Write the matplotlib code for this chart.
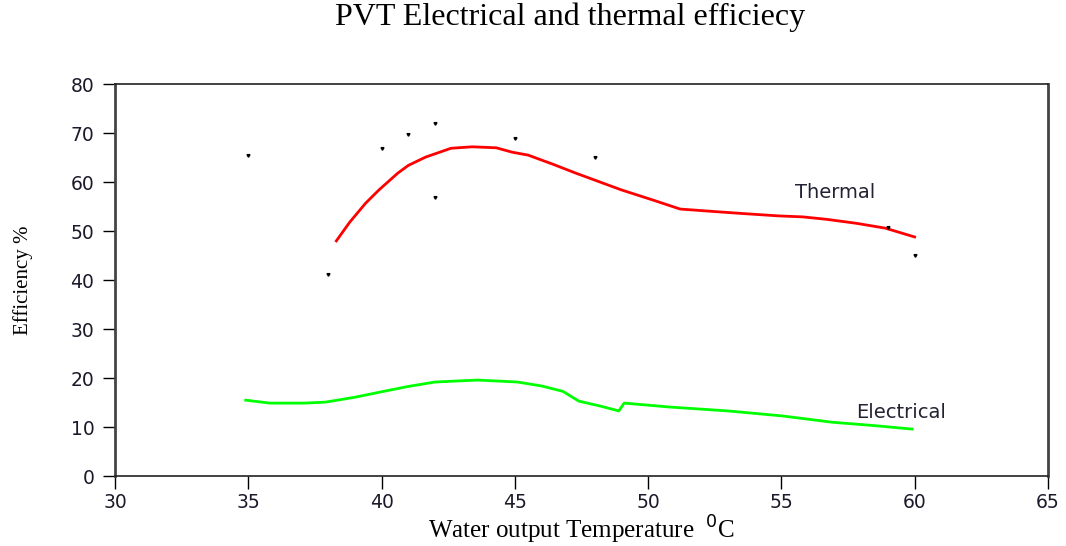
import matplotlib
matplotlib.use("Agg")
import matplotlib.pyplot as plt

# measured points (tiny black marks)
meas_x = [35, 38, 40, 41, 42, 42, 45, 48, 59, 60]
meas_y = [65.5, 41.2, 66.9, 69.8, 72.0, 56.9, 69.0, 65.1, 50.8, 45.1]

# thermal efficiency curve
thermal_x = [38.3, 38.8, 39.4, 39.9, 40.6, 41.0, 41.65, 42.6, 43.4, 44.3, 44.9,
             45.5, 46.4, 47.3, 48.1, 49.0, 50.2, 51.2, 52.2, 53.5, 54.9,
             55.8, 56.7, 57.8, 58.9, 60.0]
thermal_y = [48.0, 51.8, 55.7, 58.4, 61.8, 63.4, 65.1, 66.9, 67.2, 67.0, 66.1,
             65.5, 63.7, 61.8, 60.2, 58.4, 56.3, 54.5, 54.1, 53.6, 53.1,
             52.9, 52.4, 51.6, 50.6, 48.8]

# electrical efficiency curve
elec_x = [34.9, 35.8, 37.1, 37.9, 39.0, 39.9, 41.0, 42.0, 43.6, 45.1, 46.0,
          46.8, 47.4, 48.2, 48.9, 49.1, 50.8, 53.0, 55.0, 56.9, 58.5, 59.9]
elec_y = [15.5, 14.9, 14.9, 15.1, 16.1, 17.1, 18.3, 19.2, 19.6, 19.2, 18.4,
          17.3, 15.3, 14.3, 13.3, 14.9, 14.1, 13.3, 12.3, 11.0, 10.3, 9.6]

xticks = [30, 35, 40, 45, 50, 55, 60, 65]
yticks = [0, 10, 20, 30, 40, 50, 60, 70, 80]

fig = plt.figure(figsize=(10.66, 5.46), dpi=100)
ax = fig.add_axes([0.108, 0.128, 0.875, 0.718])

ax.plot(thermal_x, thermal_y, color="#ff0000", lw=2)
ax.plot(elec_x, elec_y, color="#00ff00", lw=2)
ax.plot(meas_x, meas_y, ls="none", marker=(3, 0, 60), ms=2.5, color="black")

ax.text(57.0, 57.8, "Thermal", fontsize=14, ha="center", va="center",
        family="DejaVu Sans", color="#222233")
ax.text(59.5, 12.9, "Electrical", fontsize=14, ha="center", va="center",
        family="DejaVu Sans", color="#222233")

ax.set_xlim(30, 65)
ax.set_ylim(0, 80)
ax.set_xticks(xticks)
ax.set_yticks(yticks)
ax.tick_params(direction="out", length=9, width=1, labelsize=13.5)
ax.tick_params(axis="x", pad=3)
ax.tick_params(axis="y", pad=6)
for lab in ax.get_xticklabels() + ax.get_yticklabels():
    lab.set_family("DejaVu Sans")
    lab.set_color("#1a1a2a")
for side in ["left", "right"]:
    ax.spines[side].set_linewidth(2)
    ax.spines[side].set_color("#444444")
for side in ["top", "bottom"]:
    ax.spines[side].set_linewidth(1.2)
    ax.spines[side].set_color("#222222")

ax.set_xlabel("Water output Temperature  $^{0}$C", family="Liberation Serif",
              fontsize=18)
ax.xaxis.set_label_coords(0.5, -0.095)
ax.set_ylabel("Efficiency %", family="Liberation Serif", fontsize=15)
ax.yaxis.set_label_coords(-0.088, 0.5)
fig.text(0.535, 0.968, "PVT Electrical and thermal efficiecy", family="Liberation Serif",
         fontsize=23, ha="center", va="center")

fig.savefig("out.png", dpi=100)
